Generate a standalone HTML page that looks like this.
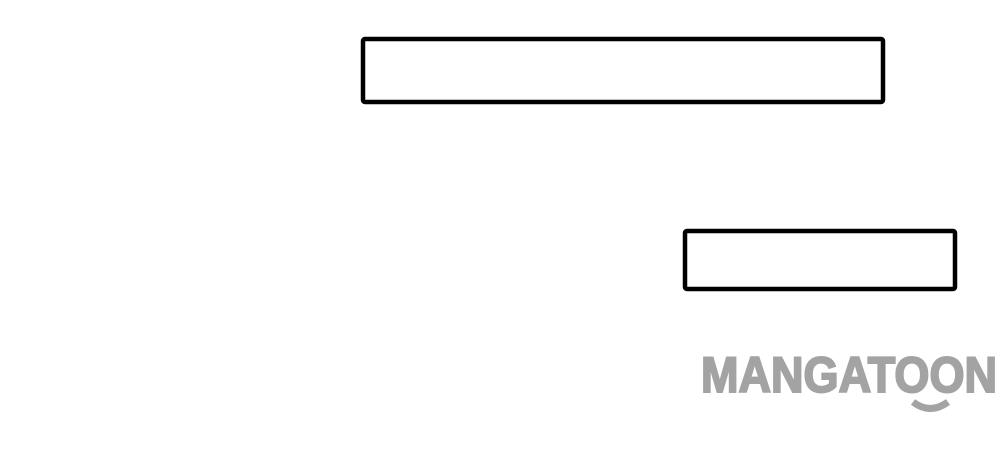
<!DOCTYPE html>
<html><head><meta charset="utf-8"><style>
html,body{margin:0;padding:0;background:#fff;width:1000px;height:466px;overflow:hidden}
</style></head><body>
<svg width="1000" height="466" viewBox="0 0 1000 466" xmlns="http://www.w3.org/2000/svg">
<rect x="0" y="0" width="1000" height="466" fill="#fff"/>
<rect x="363" y="39" width="520" height="63" rx="2" fill="#fff" stroke="#000" stroke-width="4.5"/>
<rect x="685" y="231" width="270" height="58" rx="2" fill="#fff" stroke="#000" stroke-width="4.5"/>
<text x="701" y="392" font-family="Liberation Sans, sans-serif" font-weight="bold" font-size="50" fill="#a3a3a3" stroke="#a3a3a3" stroke-width="2" textLength="296" lengthAdjust="spacingAndGlyphs">MANGATOON</text>
<path d="M913 402 Q930 415 948 402" fill="none" stroke="#a3a3a3" stroke-width="7"/>
</svg>
</body></html>
